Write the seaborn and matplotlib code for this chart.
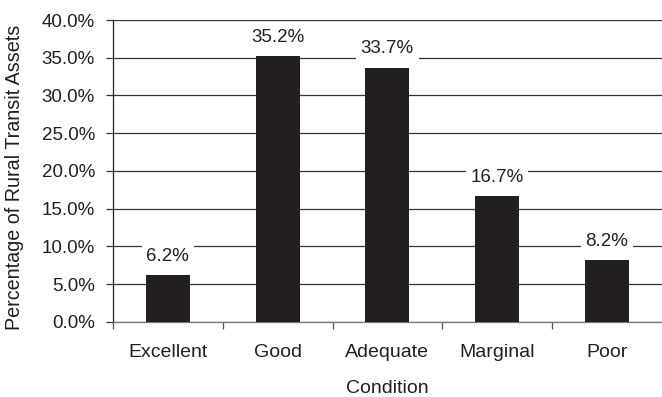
import matplotlib
matplotlib.use("Agg")
import matplotlib.pyplot as plt
import seaborn as sns
import pandas as pd
from matplotlib.ticker import FixedLocator

conditions = ["Excellent", "Good", "Adequate", "Marginal", "Poor"]
shares = [6.2, 35.2, 33.7, 16.7, 8.2]
y_ticks = [0, 5, 10, 15, 20, 25, 30, 35, 40]

df = pd.DataFrame({"Condition": conditions, "Share": shares})

sns.set_style("white")
plt.rcParams["font.family"] = ["Liberation Sans", "DejaVu Sans"]
ink = "#231f20"

fig = plt.figure(figsize=(6.62, 3.97), dpi=100)
ax = fig.add_axes([0.1707, 0.189, 0.829, 0.7606])

sns.barplot(data=df, x="Condition", y="Share", color=ink, width=0.4,
            saturation=1, edgecolor="none", ax=ax, zorder=3)

ax.set_ylim(0, 40)
ax.set_xlim(-0.5, 4.5)
ax.set_yticks(y_ticks)
ax.set_yticklabels([f"{v:.1f}%" for v in y_ticks])
ax.yaxis.grid(True, color="#333333", linewidth=0.9, zorder=0)
ax.set_axisbelow(True)

# category boundary ticks on the x axis
ax.xaxis.set_minor_locator(FixedLocator([-0.5, 0.5, 1.5, 2.5, 3.5]))
ax.tick_params(axis="x", which="minor", length=5, width=0.9, color="#555555",
               direction="out", bottom=True)
ax.tick_params(axis="x", which="major", length=0, pad=16, labelsize=14,
               labelcolor=ink)
ax.tick_params(axis="y", which="major", length=5, width=0.9, color="#333333",
               direction="out", left=True, pad=8, labelsize=13.5, labelcolor=ink)

for side in ["top", "right"]:
    ax.spines[side].set_visible(False)
ax.spines["left"].set_color("#222222")
ax.spines["left"].set_linewidth(0.9)
ax.spines["bottom"].set_color("#777777")
ax.spines["bottom"].set_linewidth(0.9)

ax.set_xlabel("Condition", fontsize=14, color=ink, labelpad=13.5)
ax.set_ylabel("Percentage of Rural Transit Assets", fontsize=14.2, color=ink)
ax.yaxis.set_label_coords(-0.163, 0.48)

for i, v in enumerate(shares):
    ax.annotate(f"{v:.1f}%", xy=(i, v), xytext=(0, 13.5),
                textcoords="offset points", ha="center", va="center",
                fontsize=13.5, color=ink, zorder=4,
                bbox=dict(boxstyle="square,pad=0.25", fc="white", ec="none"))

fig.savefig("out.png", dpi=100)
